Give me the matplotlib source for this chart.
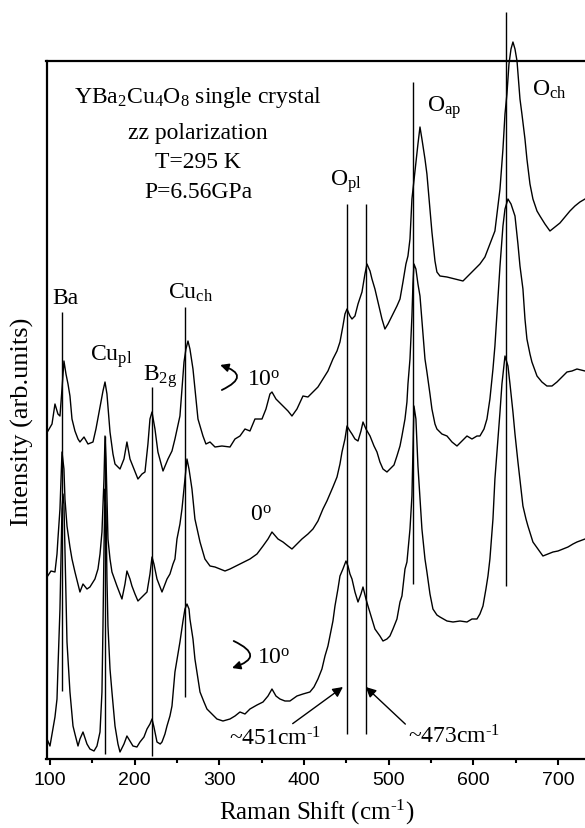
import matplotlib
matplotlib.use("Agg")
import matplotlib.pyplot as plt
from matplotlib.patches import FancyArrowPatch

plt.rcParams['font.family'] = 'Liberation Serif'
plt.rcParams['mathtext.fontset'] = 'custom'
plt.rcParams['mathtext.rm'] = 'Liberation Serif'
plt.rcParams['mathtext.it'] = 'Liberation Serif:italic'

# Raman shift (cm-1) / intensity (arb. units)
# upper spectrum, crystal turned by +10 deg
top_x = [97.6, 102.4, 105.9, 109.4, 111.8, 114.2, 116.5, 118.9, 121.3, 123.6, 126, 129.5, 133.1, 135.4,
         140.2, 144.9, 150.8, 154.3, 159.1, 162.6, 165, 167.3, 170.9, 174.4, 176.8, 182.7, 187.4, 190.9,
         194.5, 199.2, 203.9, 208.7, 212.2, 215.7, 218.1, 220.5, 224, 227.5, 233.5, 239.4, 244.1, 247.6,
         253.5, 258.3, 260.6, 263, 265.3, 268.9, 272.4, 274.8, 280.7, 284.2, 289, 294.9, 303.1, 312.6,
         318.5, 324.4, 330.3, 336.2, 342.1, 350.4, 355.1, 359.8, 362.2, 366.9, 375.2, 381.1, 385.8, 391.7,
         398.8, 404.7, 410.6, 416.5, 422.4, 428.3, 434.2, 439, 442.5, 446, 448.4, 450.8, 454.3, 456.7,
         460.2, 463.8, 468.5, 472, 474.4, 478, 480.3, 483.8, 487.4, 492.1, 495.6, 499.2, 503.9, 509.8,
         513.4, 516.9, 520.4, 522.8, 525.2, 527.5, 531.1, 534.6, 537, 539.3, 542.9, 545.2, 548.8, 551.1,
         554.7, 557, 560.6, 568.9, 578.3, 587.8, 596.1, 602, 607.8, 613.7, 619.6, 625.5, 631.5, 635,
         637.4, 639.7, 642.1, 644.5, 646.8, 649.2, 651.6, 655.1, 657.4, 661, 663.3, 666.9, 670.4, 675.2,
         678.7, 684.6, 690.5, 696.4, 702.3, 708.2, 714.1, 720, 725.9, 731.9]
top_y = [328, 335, 355, 345, 343, 370, 398, 385, 375, 363, 340, 328, 320, 317,
         322, 315, 317, 330, 352, 368, 377, 365, 327, 305, 295, 290, 300, 317,
         300, 290, 280, 285, 287, 315, 340, 347, 330, 307, 288, 300, 308, 320,
         343, 397, 410, 418, 410, 390, 360, 340, 323, 315, 317, 312, 313, 312,
         320, 323, 330, 328, 340, 340, 350, 365, 367, 360, 353, 348, 343, 350,
         363, 362, 367, 372, 380, 388, 400, 408, 417, 433, 445, 450, 443, 440,
         443, 455, 467, 485, 495, 488, 480, 470, 457, 440, 430, 435, 443, 453,
         460, 477, 495, 503, 520, 560, 588, 615, 632, 620, 600, 585, 550, 527,
         498, 487, 483, 482, 480, 478, 485, 490, 495, 502, 515, 528, 570, 610,
         645, 665, 695, 710, 717, 710, 698, 660, 645, 620, 600, 575, 560, 548,
         543, 535, 528, 532, 536, 542, 548, 553, 557, 560]

# middle spectrum, 0 deg
mid_x = [96.5, 101.2, 105.9, 108.3, 109.4, 111.8, 113, 114.2, 116.5, 117.7, 120.1, 123.6, 126, 129.5,
         133.1, 135.4, 139, 143.7, 147.2, 153.1, 156.7, 159.1, 161.4, 163.8, 165, 166.2, 168.5, 170.9,
         173.2, 179.1, 185, 188.6, 190.9, 194.5, 196.8, 200.4, 203.9, 208.7, 214.6, 218.1, 220.5, 222.8,
         226.4, 232.3, 238.2, 241.7, 245.3, 247.6, 250, 253.5, 255.9, 259.4, 261.8, 264.2, 267.7, 271.2,
         277.2, 283, 289, 294.9, 300.8, 306.7, 312.6, 324.4, 336.2, 344.5, 351.6, 357.5, 362.2, 369.3,
         375.2, 381.1, 385.8, 391.7, 397.6, 404.7, 410.6, 416.5, 422.4, 427.1, 430.7, 434.2, 439, 442.5,
         444.9, 448.4, 450.8, 454.3, 456.7, 460.2, 463.8, 467.3, 469.7, 473.2, 478, 482.7, 486.2, 489.7,
         493.3, 498, 501.5, 506.3, 509.8, 513.4, 515.7, 519.3, 521.6, 522.8, 525.2, 527.5, 528.7, 529.9,
         532.2, 534.6, 537, 540.5, 542.9, 545.2, 548.8, 551.1, 554.7, 557, 562.9, 568.9, 574.8, 580.7,
         586.6, 592.5, 598.4, 604.3, 607.8, 612.6, 616.1, 619.6, 623.2, 625.5, 629.1, 631.5, 635, 637.4,
         640.9, 644.5, 649.2, 652.7, 655.1, 658.6, 661, 663.3, 666.9, 669.2, 675.2, 681, 686.9, 692.9,
         698.8, 704.7, 710.6, 716.5, 722.4, 731.9]
mid_y = [182, 188, 187, 205, 220, 250, 280, 307, 290, 260, 233, 212, 200, 187,
         175, 167, 175, 170, 172, 180, 190, 205, 227, 280, 323, 300, 220, 200,
         187, 173, 160, 175, 188, 180, 173, 165, 158, 162, 167, 185, 202, 195,
         180, 167, 180, 185, 195, 200, 220, 235, 250, 280, 300, 290, 270, 240,
         217, 200, 193, 192, 190, 188, 190, 195, 200, 205, 213, 220, 227, 220,
         217, 213, 210, 215, 220, 225, 230, 238, 250, 258, 265, 272, 282, 295,
         307, 320, 333, 328, 325, 320, 318, 328, 337, 330, 323, 313, 307, 297,
         290, 287, 290, 294, 303, 313, 323, 340, 357, 375, 400, 443, 475, 495,
         490, 475, 463, 425, 400, 387, 365, 350, 335, 330, 325, 323, 317, 313,
         318, 323, 320, 323, 323, 330, 340, 360, 390, 413, 460, 493, 533, 550,
         560, 555, 543, 515, 493, 470, 440, 420, 405, 397, 383, 377, 373, 373,
         377, 382, 387, 388, 390, 388]

# lower spectrum, crystal turned by -10 deg
bot_x = [96.5, 100, 103.5, 105.9, 108.3, 109.4, 111.8, 113, 114.2, 115.4, 116.5, 117.7, 120.1, 123.6,
         127.2, 129.5, 133.1, 135.4, 139, 143.7, 147.2, 152, 155.5, 159.1, 161.4, 162.6, 163.8, 165,
         166.2, 167.3, 168.5, 170.9, 173.2, 176.8, 180.3, 182.7, 187.4, 190.9, 194.5, 198, 202.7, 206.3,
         211, 214.6, 218.1, 220.5, 222.8, 226.4, 230.2, 232.3, 235.8, 238.2, 241.7, 244.1, 247.6, 251.2,
         253.5, 257.1, 259.4, 261.8, 264.2, 265.3, 268.9, 271.2, 274.8, 277.2, 281.9, 285.4, 291.3, 297.2,
         304.3, 312.6, 318.5, 324.4, 330.3, 336.2, 344.5, 351.6, 357.5, 362.2, 366.9, 371.6, 377.5, 383.4,
         391.7, 398.8, 407, 411.8, 416.5, 421.2, 424.8, 428.3, 430.7, 434.2, 436.6, 440.1, 442.5, 446,
         449.6, 452, 454.3, 456.7, 460.2, 463.8, 467.3, 469.7, 473.2, 475.6, 480.3, 483.8, 489.7, 493.3,
         498, 501.5, 505.1, 509.8, 513.4, 515.7, 519.3, 521.6, 525.2, 527.5, 528.7, 529.9, 532.2, 534.6,
         537, 539.3, 542.9, 545.2, 548.8, 552.3, 557, 560.6, 568.9, 576, 584.3, 592.5, 598.4, 604.3,
         607.8, 611.4, 614.9, 617.3, 619.6, 623.2, 625.5, 629.1, 631.5, 633.8, 637.4, 640.9, 643.3, 646.8,
         649.2, 652.7, 656.3, 658.6, 662.2, 664.5, 670.4, 676.3, 682.2, 688.1, 694.1, 700, 705.9, 711.8,
         717.7, 722.4, 731.9]
bot_y = [20, 13, 30, 42, 60, 90, 150, 200, 250, 265, 255, 210, 117, 67,
         33, 25, 13, 20, 27, 15, 10, 8, 13, 27, 67, 133, 210, 270,
         250, 180, 133, 90, 67, 33, 15, 7, 15, 23, 18, 13, 12, 17,
         22, 30, 35, 40, 32, 17, 15, 17, 25, 33, 43, 53, 87, 105,
         117, 138, 150, 155, 150, 140, 120, 100, 80, 67, 57, 50, 45, 40,
         38, 40, 43, 47, 45, 50, 54, 57, 63, 70, 63, 60, 58, 58,
         63, 65, 67, 72, 80, 90, 103, 113, 123, 138, 153, 170, 183, 190,
         198, 193, 185, 180, 167, 157, 165, 172, 160, 153, 140, 130, 123, 118,
         120, 123, 130, 140, 157, 163, 190, 197, 230, 263, 310, 353, 340, 293,
         260, 230, 200, 187, 165, 150, 144, 142, 138, 137, 138, 137, 140, 140,
         145, 153, 170, 183, 200, 240, 280, 320, 347, 375, 403, 393, 375, 347,
         325, 297, 270, 253, 240, 233, 217, 210, 203, 205, 207, 208, 210, 212,
         215, 217, 220]

# phonon markers: position, top and bottom of each line
line_pos = [114, 165, 221, 260, 451, 473, 529, 639]
line_top = [447, 323, 372, 452, 555, 555, 677, 747]
line_bot = [68, 5, 3, 62, 25, 25, 175, 173]

mode_labels = ['Ba', 'Cu$_{\\rm pl}$', 'B$_{\\rm 2g}$', 'Cu$_{\\rm ch}$',
               'O$_{\\rm pl}$', 'O$_{\\rm ap}$', 'O$_{\\rm ch}$']
mode_lab_x = [103, 147, 210, 239, 431, 545, 669]
mode_lab_y = [462, 403, 383, 467, 578, 652, 670]

info_lines = ['YBa$_2$Cu$_4$O$_8$ single crystal', 'zz polarization', 'T=295 K', 'P=6.56GPa']
info_y = [663, 626, 597, 567]

inv_cm = 'cm$^{\\mathrm{\u2010}1}$'

fig = plt.figure(figsize=(5.85, 8.29), dpi=100)
ax = fig.add_axes([46.5 / 585, 69 / 829, 538.5 / 585, 698 / 829])

for xs, ys in [(top_x, top_y), (mid_x, mid_y), (bot_x, bot_y)]:
    ax.plot(xs, ys, color='black', lw=1.0, clip_on=False)

ax.vlines(line_pos, line_bot, line_top, colors='black', lw=1.0, clip_on=False)

for lab, lx, ly in zip(mode_labels, mode_lab_x, mode_lab_y):
    ax.text(lx, ly, lab, fontsize=17, ha='left', va='center')

for txt, ty in zip(info_lines, info_y):
    ax.text(275, ty, txt, fontsize=17, ha='center', va='center')

# rotation marks
arr_top = FancyArrowPatch((303, 369), (301, 394), connectionstyle='arc3,rad=1.25',
                          arrowstyle='-|>', mutation_scale=12, lw=1.3, color='black',
                          shrinkA=0, shrinkB=0)
ax.add_patch(arr_top)
ax.text(333, 380, '10$^{\\rm o}$', fontsize=17, ha='left', va='center')

arr_bot = FancyArrowPatch((317, 118), (315, 91), connectionstyle='arc3,rad=-1.25',
                          arrowstyle='-|>', mutation_scale=12, lw=1.3, color='black',
                          shrinkA=0, shrinkB=0)
ax.add_patch(arr_bot)
ax.text(345, 102, '10$^{\\rm o}$', fontsize=17, ha='left', va='center')

ax.text(336, 245, '0$^{\\rm o}$', fontsize=17, ha='left', va='center')

ax.annotate('~451' + inv_cm, xy=(446, 72), xytext=(311, 21), fontsize=17,
            ha='left', va='center',
            arrowprops=dict(arrowstyle='-|>', color='black', lw=1.0, mutation_scale=15,
                            shrinkA=0, shrinkB=0, relpos=(0.62, 0.9)))
ax.annotate('~473' + inv_cm, xy=(473, 72), xytext=(523, 23), fontsize=17,
            ha='left', va='center',
            arrowprops=dict(arrowstyle='-|>', color='black', lw=1.0, mutation_scale=15,
                            shrinkA=0, shrinkB=0, relpos=(0.0, 0.9)))

ax.set_xlim(95.9, 731.9)
ax.set_ylim(0, 698)
ax.set_xticks([100, 200, 300, 400, 500, 600, 700])
ax.set_xticks([150, 250, 350, 450, 550, 650], minor=True)
ax.set_yticks([])
ax.tick_params(axis='x', which='major', direction='out', length=4, width=1.5, pad=5)
ax.tick_params(axis='x', which='minor', direction='out', length=3, width=1.5)
for t in ax.get_xticklabels():
    t.set_fontfamily('Liberation Sans')
    t.set_fontsize(14)
for side in ['left', 'top', 'bottom']:
    ax.spines[side].set_linewidth(1.6)
ax.spines['right'].set_visible(False)

fig.text(317 / 585, 9 / 829, 'Raman Shift (' + inv_cm + ')', fontsize=18,
         ha='center', va='baseline')
fig.text(22 / 585, 407 / 829, 'Intensity (arb.units)', fontsize=19, rotation=90,
         ha='center', va='center')

fig.savefig('out.png', dpi=100)
